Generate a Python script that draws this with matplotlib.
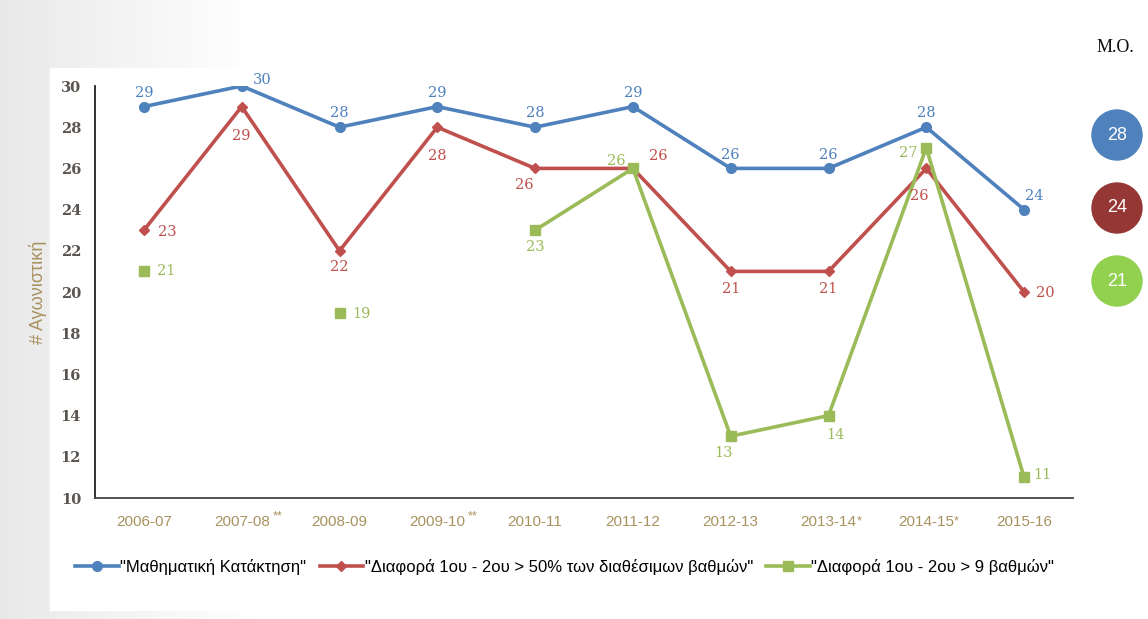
import numpy as np
import matplotlib
matplotlib.use("Agg")
import matplotlib.pyplot as plt
from matplotlib.patches import Circle
from matplotlib.transforms import blended_transform_factory

# data
seasons = ["2006-07", "2007-08", "2008-09", "2009-10", "2010-11",
           "2011-12", "2012-13", "2013-14", "2014-15", "2015-16"]
season_marks = ["", "**", "", "**", "", "", "", "*", "*", ""]
math_conquest = [29, 30, 28, 29, 28, 29, 26, 26, 28, 24]
diff_50pct = [23, 29, 22, 28, 26, 26, 21, 21, 26, 20]
diff_9pts = [21, np.nan, 19, np.nan, 23, 26, 13, 14, 27, 11]
averages = [28, 24, 21]

series_names = ['"Μαθηματική Κατάκτηση"',
                '"Διαφορά 1ου - 2ου > 50% των διαθέσιμων βαθμών"',
                '"Διαφορά 1ου - 2ου > 9 βαθμών"']

# label offsets (points) per point, as placed in the reference
blue_off = [(0, 10), (15, 4), (0, 10), (0, 10), (0, 10), (0, 10), (0, 10), (0, 10), (0, 10), (7, 10)]
red_off = [(17, -1), (0, -21), (0, -12), (0, -21), (-8, -12), (18, 9), (0, -13), (0, -13), (-5, -20), (15, -1)]
green_off = [(16, 0), None, (16, -1), None, (0, -12), (-12, 5), (-5, -12), (5, -14), (-13, -4), (13, 2)]

BLUE = "#4f81bd"
RED = "#c0504d"
GREEN = "#9bbb59"
TAN = "#a8925f"
circle_cols = ["#4f81bd", "#953735", "#92d050"]

plt.rcParams['font.family'] = ['Liberation Sans', 'DejaVu Sans']

fig = plt.figure(figsize=(11.48, 6.19), dpi=100)

# slide background: grey fade on the left, white chart box
bg = fig.add_axes([0, 0, 1, 1], zorder=-10)
grad = np.tile(np.linspace(0.91, 1.0, 60), (2, 1))
grad = np.concatenate([grad, np.ones((2, 200))], axis=1)
bg.imshow(grad, cmap="gray", vmin=0, vmax=1, aspect="auto", extent=[0, 1, 0, 1])
bg.add_patch(plt.Rectangle((50 / 1148, 1 - 610 / 619), 1, (610 - 68) / 619,
                           transform=bg.transAxes, color="white", zorder=2))
bg.set_xlim(0, 1); bg.set_ylim(0, 1)
bg.axis("off")

ax = fig.add_axes([95 / 1148, 121 / 619, 978 / 1148, 412 / 619])
ax.set_facecolor("none")
x = np.arange(len(seasons))

ax.plot(x, math_conquest, color=BLUE, lw=2.6, marker="o", ms=7, label=series_names[0], zorder=3)
ax.plot(x, diff_50pct, color=RED, lw=2.6, marker="D", ms=5, label=series_names[1], zorder=4)
ax.plot(x, diff_9pts, color=GREEN, lw=2.6, marker="s", ms=7, label=series_names[2], zorder=5)

for vals, offs, col in [(math_conquest, blue_off, BLUE), (diff_50pct, red_off, RED),
                        (diff_9pts, green_off, GREEN)]:
    for xi, v, off in zip(x, vals, offs):
        if off is None or np.isnan(v):
            continue
        ax.annotate(f"{int(v)}", (xi, v), xytext=off, textcoords="offset points",
                    ha="center", va="center", color=col, fontsize=10.5,
                    family="DejaVu Serif", zorder=6)

ax.set_xlim(-0.5, len(seasons) - 0.5)
ax.set_ylim(10, 30)
ax.set_yticks(range(10, 31, 2))
ax.set_xticks(x)
ax.set_xticklabels(seasons, color=TAN, fontsize=11)
ax.tick_params(axis="y", colors="#5a5550", labelsize=10.5, length=0, pad=10)
ax.tick_params(axis="x", length=0, pad=12)
for lab in ax.get_yticklabels():
    lab.set_fontfamily("DejaVu Serif")
    lab.set_fontweight("bold")

# asterisk notes next to some season labels
trans = blended_transform_factory(ax.transData, ax.transAxes)
for xi, mark in zip(x, season_marks):
    if not mark:
        continue
    dx, dy = (22, -13) if mark == "**" else (20, -17)
    ax.annotate(mark, (xi, 0), xytext=(dx, dy), textcoords="offset points",
                xycoords=trans, ha="left", va="center", color=TAN,
                fontsize=9, annotation_clip=False)

ax.spines["top"].set_visible(False)
ax.spines["right"].set_visible(False)
ax.spines["left"].set_color("#222222")
ax.spines["bottom"].set_color("#444444")
ax.spines["left"].set_linewidth(1.3)
ax.spines["bottom"].set_linewidth(1.3)
ax.set_ylabel("# Αγωνιστική", color=TAN, fontsize=13, labelpad=10)

fig.legend(loc="center", bbox_to_anchor=(0.492, 0.084), ncol=3, frameon=False,
           fontsize=12, handlelength=2.6, columnspacing=0.8, handletextpad=0.1)

# averages column on the right, drawn in pixel units
side = fig.add_axes([1080 / 1148, 0, 68 / 1148, 1])
side.set_xlim(1080, 1148)
side.set_ylim(619, 0)
side.axis("off")
side.text(1115, 47, "Μ.Ο.", ha="center", va="center", fontsize=13,
          family="Liberation Serif", color="#111111")
for i, (avg, col) in enumerate(zip(averages, circle_cols)):
    cy = 135 + i * 73
    side.add_patch(Circle((1117, cy), 25, color=col, clip_on=False))
    side.text(1117, cy, str(avg), ha="center", va="center", color="white", fontsize=13)

fig.savefig("out.png", dpi=100)
